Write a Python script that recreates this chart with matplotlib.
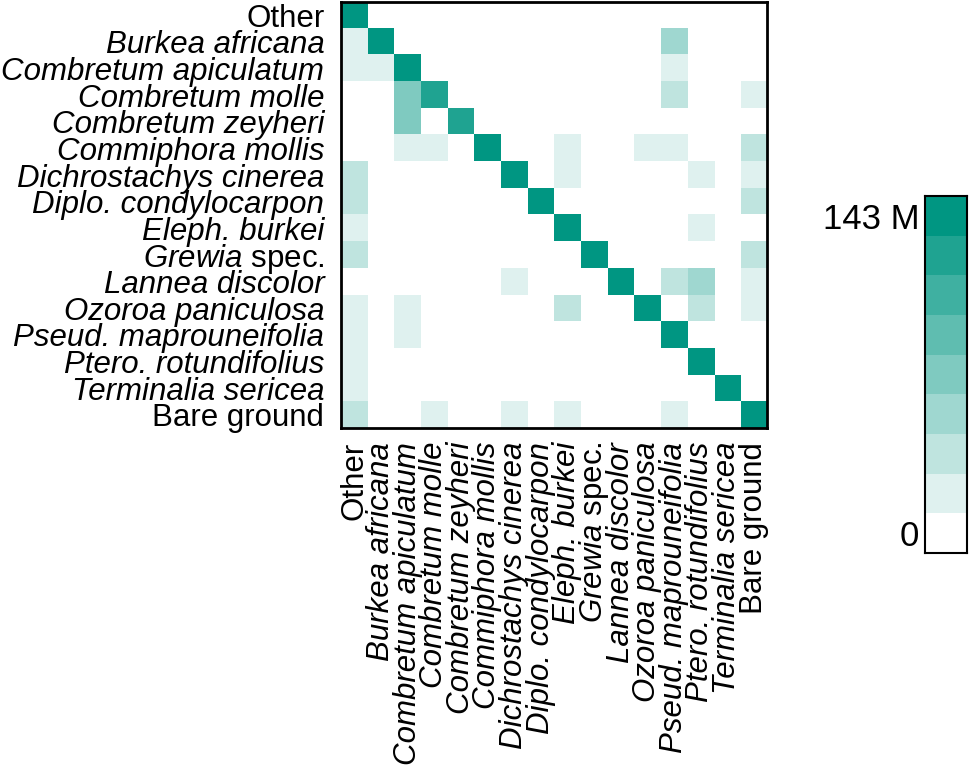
import numpy as np
import matplotlib
matplotlib.use("Agg")
import matplotlib.pyplot as plt
from matplotlib.colors import ListedColormap, to_rgb

plt.rcParams['font.family'] = ['Liberation Sans', 'DejaVu Sans']
plt.rcParams['mathtext.fontset'] = 'custom'
plt.rcParams['mathtext.it'] = 'Liberation Sans:italic'
plt.rcParams['mathtext.rm'] = 'Liberation Sans'

labels = ["Other", "Burkea africana", "Combretum apiculatum", "Combretum molle",
          "Combretum zeyheri", "Commiphora mollis", "Dichrostachys cinerea",
          "Diplo. condylocarpon", "Eleph. burkei", "$\\mathit{Grewia}$ spec.",
          "Lannea discolor", "Ozoroa paniculosa", "Pseud. maprouneifolia",
          "Ptero. rotundifolius", "Terminalia sericea", "Bare ground"]
italic = [False] + [True] * 8 + [False] + [True] * 5 + [False]

# binned pixel counts (colour class 0..8, class 8 = 143 M)
levels = np.array([
    [8,0,0,0,0,0,0,0,0,0,0,0,0,0,0,0],
    [1,8,0,0,0,0,0,0,0,0,0,0,3,0,0,0],
    [1,1,8,0,0,0,0,0,0,0,0,0,1,0,0,0],
    [0,0,4,7,0,0,0,0,0,0,0,0,2,0,0,1],
    [0,0,4,0,7,0,0,0,0,0,0,0,0,0,0,0],
    [0,0,1,1,0,8,0,0,1,0,0,1,1,0,0,2],
    [2,0,0,0,0,0,8,0,1,0,0,0,0,1,0,1],
    [2,0,0,0,0,0,0,8,0,0,0,0,0,0,0,2],
    [1,0,0,0,0,0,0,0,8,0,0,0,0,1,0,0],
    [2,0,0,0,0,0,0,0,0,8,0,0,0,0,0,2],
    [0,0,0,0,0,0,1,0,0,0,8,0,2,3,0,1],
    [1,0,1,0,0,0,0,0,2,0,0,8,0,2,0,1],
    [1,0,1,0,0,0,0,0,0,0,0,0,8,0,0,0],
    [1,0,0,0,0,0,0,0,0,0,0,0,0,8,0,0],
    [1,0,0,0,0,0,0,0,0,0,0,0,0,0,8,0],
    [2,0,0,1,0,0,1,0,1,0,0,0,1,0,0,8],
])
cbar_labels = ["143 M", "0"]

teal = np.array(to_rgb("#009682"))
white = np.ones(3)
colors = [white + (teal - white) * i / 8 for i in range(9)]
cmap = ListedColormap(colors)

fig = plt.figure(figsize=(9.7, 7.69), dpi=100)
ax = fig.add_axes([0.3515, 0.4434, 0.4392, 0.554])
ax.imshow(levels, cmap=cmap, vmin=-0.5, vmax=8.5, aspect='auto', interpolation='nearest')
n = len(labels)
ax.set_xticks(range(n))
ax.set_yticks(range(n))
ax.set_xticklabels(labels, rotation=90, fontsize=22.5)
ax.set_yticklabels(labels, fontsize=22.5)
for t, it in zip(ax.get_xticklabels(), italic):
    t.set_fontstyle('italic' if it else 'normal')
for t, it in zip(ax.get_yticklabels(), italic):
    t.set_fontstyle('italic' if it else 'normal')
ax.tick_params(axis='x', length=0, pad=10)
ax.tick_params(axis='y', length=0, pad=12)
for s in ax.spines.values():
    s.set_linewidth(2)

cax = fig.add_axes([0.9536, 0.2809, 0.0433, 0.4642])
cax.imshow(np.arange(9)[::-1].reshape(-1, 1), cmap=cmap, vmin=-0.5, vmax=8.5,
           aspect='auto', interpolation='nearest')
cax.set_xticks([])
cax.set_yticks([0, 8])
cax.set_yticklabels(cbar_labels, fontsize=25)
cax.tick_params(length=0, pad=4)
for s in cax.spines.values():
    s.set_linewidth(1.5)

fig.savefig("out.png", dpi=100)
